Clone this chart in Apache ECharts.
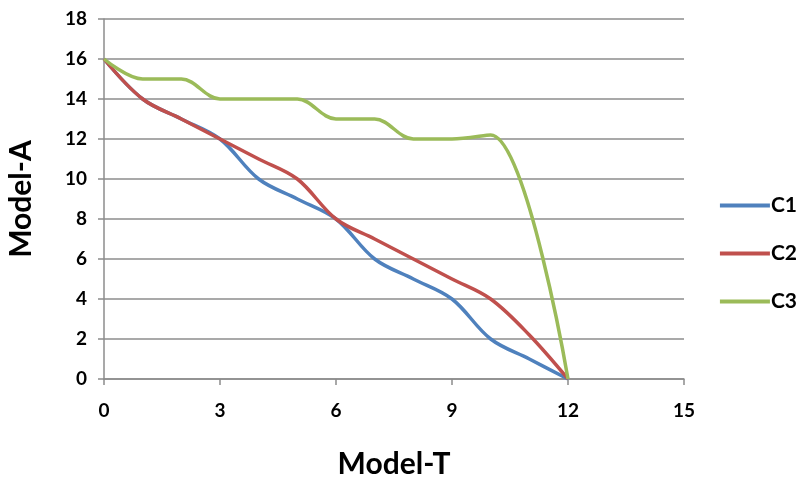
<!DOCTYPE html>
<html><head><meta charset="utf-8">
<script src="https://cdn.jsdelivr.net/npm/echarts@6/dist/echarts.min.js"></script>
<style>html,body{margin:0;padding:0;background:#fff}#c{width:806px;height:479px}</style>
</head><body><div id="c"></div>
<script>
const xValues = [0,1,2,3,4,5,6,7,8,9,10,11,12];
const c1 = [16,14,13,12,10,9,8,6,5,4,2,1,0];
const c2 = [16,14,13,12,11,10,8,7,6,5,4,2.2,0];
const c3 = [16,15,15,14,14,14,13,13,12,12,12.2,null,0];
const seriesNames = ['C1','C2','C3'];
const colors = ['#4F81BD','#C0504D','#9BBB59'];
const seriesData = [c1,c2,c3];
const font = 'Lato, "Liberation Sans", sans-serif';
const chart = echarts.init(document.getElementById('c'));
chart.setOption({
  animation:false,
  grid:{left:104,right:122,top:19,bottom:100,containLabel:false,outerBoundsMode:'none'},
  legend:{orient:'vertical',right:4,top:190,itemGap:27,itemWidth:50,itemHeight:4,icon:'rect',
    data:seriesNames,textStyle:{fontFamily:font,fontWeight:'bold',fontSize:21,color:'#000',padding:[0,0,0,-4]}},
  xAxis:{type:'value',min:0,max:15,interval:3,
    name:'Model-T',nameLocation:'middle',nameGap:70,
    nameTextStyle:{fontFamily:font,fontWeight:'bold',fontSize:30,color:'#000'},
    axisLine:{lineStyle:{color:'#8c8c8c',width:1.5}},
    axisTick:{show:true,length:6,lineStyle:{color:'#8c8c8c',width:1.5}},
    splitLine:{show:false},
    axisLabel:{fontFamily:font,fontWeight:'bold',fontSize:19,color:'#000',margin:22}},
  yAxis:{type:'value',min:0,max:18,interval:2,
    name:'Model-A',nameLocation:'middle',nameGap:68,nameRotate:90,
    nameTextStyle:{fontFamily:font,fontWeight:'bold',fontSize:30,color:'#000'},
    axisLine:{show:true,lineStyle:{color:'#8c8c8c',width:1.5}},
    axisTick:{show:true,length:6,lineStyle:{color:'#8c8c8c',width:1.5}},
    splitLine:{show:true,lineStyle:{color:'#8c8c8c',width:1.5}},
    axisLabel:{fontFamily:font,fontWeight:'bold',fontSize:19,color:'#000',margin:17}},
  series: seriesNames.map((n,i)=>({
    name:n,type:'line',smooth:0.35,showSymbol:false,connectNulls:true,
    data:xValues.map((x,j)=>[x,seriesData[i][j]]).filter(p=>p[1]!==null),
    lineStyle:{color:colors[i],width:3.5},itemStyle:{color:colors[i]}
  }))
});
</script></body></html>
